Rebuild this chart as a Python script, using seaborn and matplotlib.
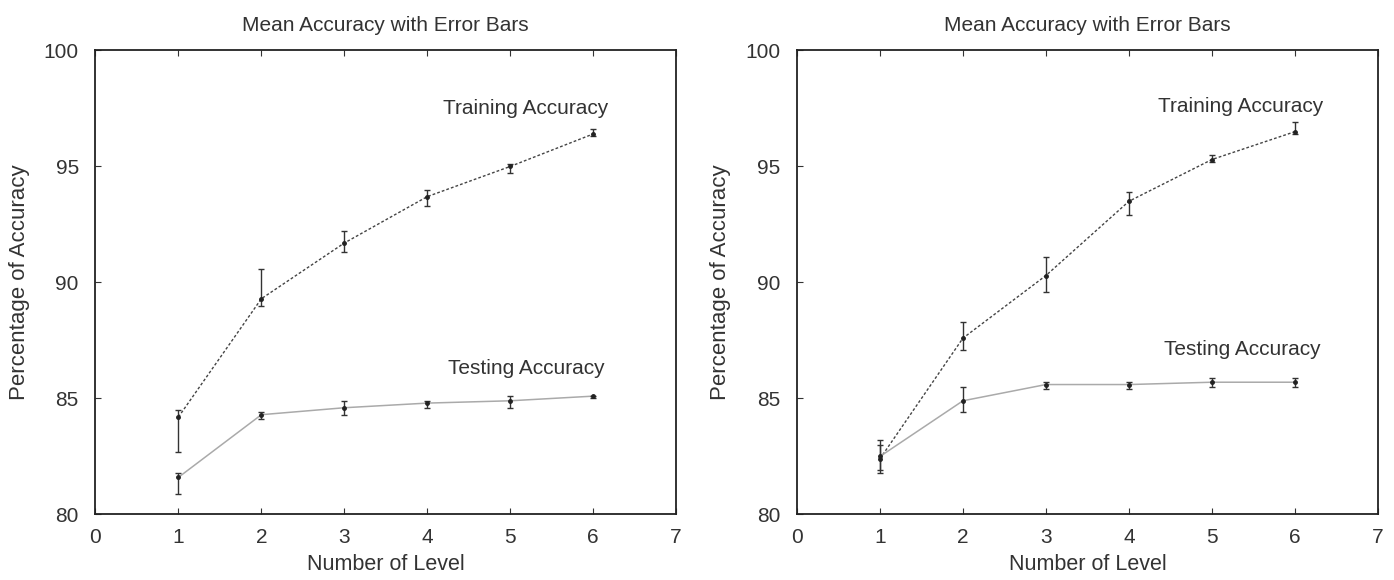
import numpy as np
import pandas as pd
import matplotlib
matplotlib.use("Agg")
import matplotlib.pyplot as plt
import seaborn as sns

levels = [1, 2, 3, 4, 5, 6]

# left panel
train_left = [84.2, 89.3, 91.7, 93.7, 95.0, 96.4]
train_left_lo = [82.7, 89.0, 91.3, 93.3, 94.7, 96.3]
train_left_hi = [84.5, 90.6, 92.2, 94.0, 95.1, 96.6]
test_left = [81.6, 84.3, 84.6, 84.8, 84.9, 85.1]
test_left_lo = [80.9, 84.1, 84.3, 84.6, 84.6, 85.0]
test_left_hi = [81.8, 84.4, 84.9, 84.9, 85.1, 85.1]

# right panel
train_right = [82.4, 87.6, 90.3, 93.5, 95.3, 96.5]
train_right_lo = [81.8, 87.1, 89.6, 92.9, 95.2, 96.4]
train_right_hi = [83.2, 88.3, 91.1, 93.9, 95.5, 96.9]
test_right = [82.5, 84.9, 85.6, 85.6, 85.7, 85.7]
test_right_lo = [81.9, 84.4, 85.4, 85.4, 85.5, 85.5]
test_right_hi = [83.0, 85.5, 85.7, 85.7, 85.9, 85.9]

xticks = [0, 1, 2, 3, 4, 5, 6, 7]
yticks = [80, 85, 90, 95, 100]

sns.set_style("ticks")
plt.rcParams["font.family"] = ["Liberation Sans", "DejaVu Sans"]

fig = plt.figure(figsize=(13.94, 5.8), dpi=100)
ax1 = fig.add_axes([0.0685, 0.113, 0.4165, 0.8])
ax2 = fig.add_axes([0.5717, 0.113, 0.4168, 0.8])


def panel(ax, tr, tr_lo, tr_hi, te, te_lo, te_hi, train_pos, test_pos):
    df = pd.DataFrame({"level": levels, "train": tr, "test": te})
    sns.lineplot(data=df, x="level", y="train", ax=ax, color="#444444",
                 linestyle=(0, (2, 1.5)), linewidth=1.0)
    sns.lineplot(data=df, x="level", y="test", ax=ax, color="#aaaaaa",
                 linewidth=1.1)
    for y, lo, hi in [(tr, tr_lo, tr_hi), (te, te_lo, te_hi)]:
        y = np.array(y)
        err = [y - np.array(lo), np.array(hi) - y]
        ax.errorbar(levels, y, yerr=err, fmt="o", ms=2.5, color="#222222",
                    ecolor="#333333", elinewidth=1.0, capsize=2.5, capthick=1.0)
    ax.text(train_pos[0], train_pos[1], "Training Accuracy", fontsize=15,
            color="#333333", ha="center", va="center")
    ax.text(test_pos[0], test_pos[1], "Testing Accuracy", fontsize=15,
            color="#333333", ha="center", va="center")
    ax.set_xlim(0, 7)
    ax.set_ylim(80, 100)
    ax.set_xticks(xticks)
    ax.set_yticks(yticks)
    ax.tick_params(direction="in", top=True, right=False, length=4,
                   labelsize=15, colors="#333333")
    ax.tick_params(axis="x", pad=10)
    ax.tick_params(axis="y", pad=12)
    for s in ax.spines.values():
        s.set_visible(True)
        s.set_linewidth(1.3)
        s.set_color("#222222")
    ax.set_xlabel("Number of Level", fontsize=15.5, color="#333333", labelpad=5)
    ax.set_ylabel("Percentage of Accuracy", fontsize=16, color="#333333",
                  labelpad=10)
    ax.set_title("Mean Accuracy with Error Bars", fontsize=15,
                 color="#333333", pad=14)


panel(ax1, train_left, train_left_lo, train_left_hi,
      test_left, test_left_lo, test_left_hi, (5.19, 97.5), (5.19, 86.3))
panel(ax2, train_right, train_right_lo, train_right_hi,
      test_right, test_right_lo, test_right_hi, (5.35, 97.6), (5.36, 87.1))

fig.savefig("out.png", dpi=100)
